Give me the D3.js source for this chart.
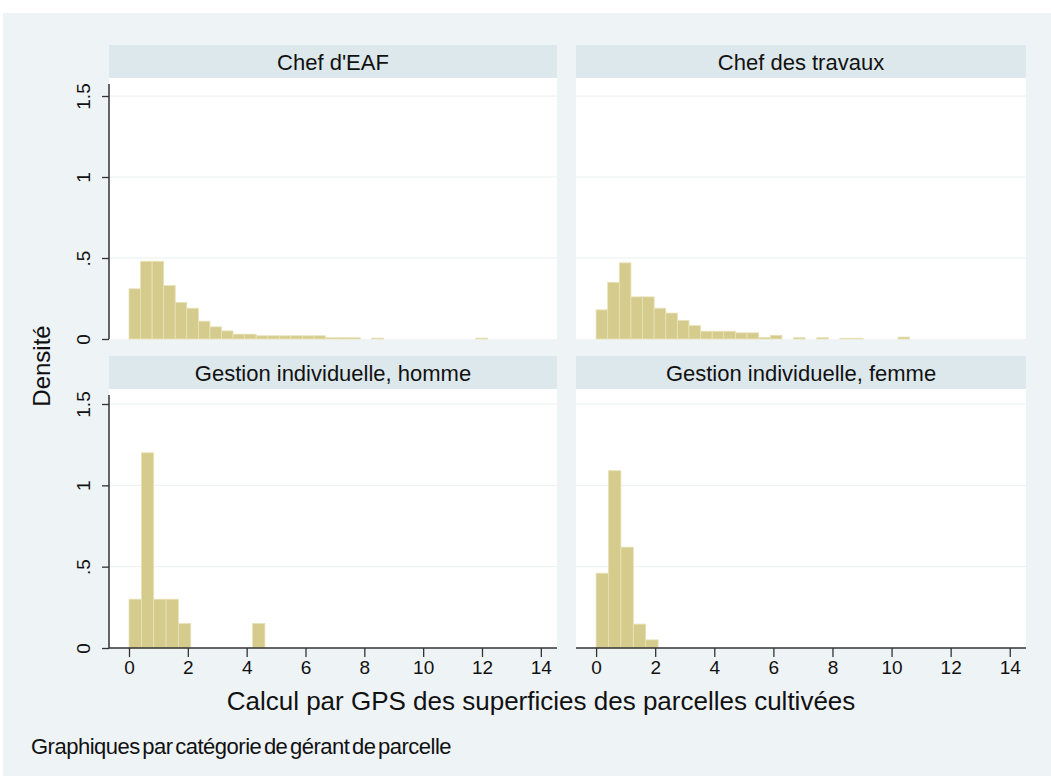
<!doctype html>
<html>
<head>
<meta charset="utf-8">
<script src="https://cdn.jsdelivr.net/npm/d3@7"></script>
<style>
  body { margin: 0; background: #fff; }
  svg { display: block; font-family: "Liberation Sans", Arial, sans-serif; }
</style>
</head>
<body>
<svg width="1051" height="776"></svg>
<script>
// panel titles (Stata by() graph)
var panelNames = ["Chef d'EAF", "Chef des travaux", "Gestion individuelle, homme", "Gestion individuelle, femme"];

// bin widths
var binTop = 0.393;
var binBottom = 0.42;

// densities per bin, starting at 0
var chefEAF = [0.31, 0.48, 0.48, 0.33, 0.225, 0.19, 0.11, 0.075, 0.05, 0.03, 0.03,
               0.02, 0.02, 0.02, 0.02, 0.02, 0.02, 0.008, 0.008, 0.008, 0, 0.006,
               0, 0, 0, 0, 0, 0, 0, 0, 0.006];
var chefTravaux = [0.18, 0.35, 0.47, 0.26, 0.26, 0.19, 0.16, 0.115, 0.083, 0.048, 0.048,
                   0.048, 0.038, 0.038, 0.01, 0.023, 0, 0.008, 0, 0.008, 0, 0.005, 0.005,
                   0, 0, 0, 0.012];
var indivHomme = [0.30, 1.20, 0.30, 0.30, 0.15, 0, 0, 0, 0, 0, 0.15];
var indivFemme = [0.46, 1.09, 0.62, 0.147, 0.05];

var yTicks = [0, 0.5, 1, 1.5];
var yTickLabels = ["0", ".5", "1", "1.5"];
var xTicks = [0, 2, 4, 6, 8, 10, 12, 14];

var svg = d3.select("svg");

svg.append("rect").attr("x", 3).attr("y", 13).attr("width", 1048).attr("height", 763)
   .attr("fill", "#eef3f6");

var cols = [{x0: 109, x1: 557}, {x0: 576, x1: 1026}];
var rows = [{head: 45, top: 78, y15: 96, zero: 339},
            {head: 356, top: 389, y15: 404, zero: 648}];

var panels = [
  {name: panelNames[0], data: chefEAF, w: binTop, c: 0, r: 0},
  {name: panelNames[1], data: chefTravaux, w: binTop, c: 1, r: 0},
  {name: panelNames[2], data: indivHomme, w: binBottom, c: 0, r: 1},
  {name: panelNames[3], data: indivFemme, w: binBottom, c: 1, r: 1}
];

panels.forEach(function(p) {
  var col = cols[p.c], row = rows[p.r];
  var xScale = d3.scaleLinear().domain([-0.68, 14.55]).range([col.x0, col.x1]);
  var yScale = d3.scaleLinear().domain([0, 1.5]).range([row.zero, row.y15]);
  var g = svg.append("g");

  // header strip
  g.append("rect").attr("x", col.x0).attr("y", row.head)
   .attr("width", col.x1 - col.x0).attr("height", row.top - row.head)
   .attr("fill", "#dde8ec");
  g.append("text").attr("x", (col.x0 + col.x1) / 2).attr("y", (row.head + row.top) / 2 + 8)
   .attr("text-anchor", "middle").attr("font-size", 22).attr("fill", "#111")
   .text(p.name);

  // plot region
  g.append("rect").attr("x", col.x0).attr("y", row.top)
   .attr("width", col.x1 - col.x0).attr("height", row.zero - row.top)
   .attr("fill", "#fff");

  // gridlines
  g.selectAll("line.grid").data(yTicks.slice(1)).enter().append("line")
   .attr("class", "grid")
   .attr("x1", col.x0).attr("x2", col.x1)
   .attr("y1", function(d) { return yScale(d); })
   .attr("y2", function(d) { return yScale(d); })
   .attr("stroke", "#eaf0f2").attr("stroke-width", 1);

  // bars
  var bins = p.data.map(function(v, i) { return {x: i * p.w, v: v}; })
                   .filter(function(d) { return d.v > 0; });
  g.selectAll("rect.bar").data(bins).enter().append("rect")
   .attr("class", "bar")
   .attr("x", function(d) { return xScale(d.x); })
   .attr("width", xScale(p.w) - xScale(0))
   .attr("y", function(d) { return yScale(d.v); })
   .attr("height", function(d) { return yScale(0) - yScale(d.v); })
   .attr("fill", "#d5cb8d")
   .attr("stroke", "#e8e2b8").attr("stroke-width", 0.8);

  // y axis on the left column only
  if (p.c == 0) {
    var yAxis = d3.axisLeft(yScale).tickValues(yTicks).tickSize(7)
                  .tickFormat(function(d, i) { return yTickLabels[i]; });
    var ya = g.append("g").attr("transform", "translate(" + col.x0 + ",0)").call(yAxis);
    ya.select(".domain").attr("d", "M0," + (row.top + 6) + "V" + row.zero)
      .attr("stroke", "#333").attr("stroke-width", 1.5);
    ya.selectAll(".tick line").attr("stroke", "#333").attr("stroke-width", 1.3);
    ya.selectAll(".tick text")
      .attr("font-size", 19).attr("font-family", "Liberation Sans, Arial, sans-serif")
      .attr("fill", "#111").attr("text-anchor", "middle")
      .attr("transform", "translate(-26,0) rotate(-90)")
      .attr("x", 0).attr("y", 0).attr("dy", "0.35em");
  }

  // x axis on the bottom row
  if (p.r == 1) {
    var xAxis = d3.axisBottom(xScale).tickValues(xTicks).tickSize(9).tickPadding(4);
    var xa = g.append("g").attr("transform", "translate(0," + row.zero + ")").call(xAxis);
    xa.select(".domain").attr("d", "M" + col.x0 + ",0H" + col.x1)
      .attr("stroke", "#333").attr("stroke-width", 1.5);
    xa.selectAll(".tick line").attr("stroke", "#333").attr("stroke-width", 1.3);
    xa.selectAll(".tick text").attr("font-size", 19)
      .attr("font-family", "Liberation Sans, Arial, sans-serif").attr("fill", "#111");
  }
});

// titles
svg.append("text").attr("x", 541).attr("y", 710).attr("text-anchor", "middle")
   .attr("font-size", 26).attr("fill", "#111")
   .text("Calcul par GPS des superficies des parcelles cultivées");

svg.append("text").attr("transform", "translate(50,366) rotate(-90)")
   .attr("text-anchor", "middle").attr("font-size", 24).attr("fill", "#111")
   .text("Densité");

svg.append("text").attr("x", 31).attr("y", 754)
   .attr("font-size", 22).attr("fill", "#111").attr("letter-spacing", -0.5)
   .attr("word-spacing", -3)
   .text("Graphiques par catégorie de gérant de parcelle");
</script>
</body>
</html>
